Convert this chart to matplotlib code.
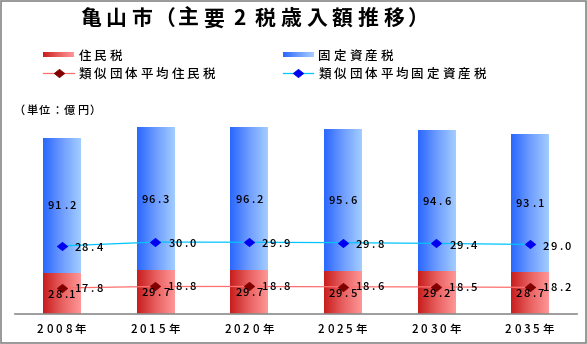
import numpy as np
import matplotlib
matplotlib.use("Agg")
import matplotlib.pyplot as plt
from matplotlib.colors import LinearSegmentedColormap
from matplotlib.patches import Rectangle

# ---- data (億円) ----
years = ["2008年", "2015年", "2020年", "2025年", "2030年", "2035年"]
resident_tax = [28.1, 29.7, 29.7, 29.5, 29.2, 28.7]
property_tax = [91.2, 96.3, 96.2, 95.6, 94.6, 93.1]
avg_resident_tax = [17.8, 18.8, 18.8, 18.6, 18.5, 18.2]
avg_property_tax = [28.4, 30.0, 29.9, 29.8, 29.4, 29.0]

title = "亀山市（主要2税歳入額推移）"
legend_labels = ["住民税", "固定資産税", "類似団体平均住民税", "類似団体平均固定資産税"]
unit_label = "（単位：億円）"

W, H = 587, 344
FONT = ["Noto Sans CJK JP", "DejaVu Sans"]

red_cmap = LinearSegmentedColormap.from_list("red_grad", ["#C81E1E", "#E86060", "#FF9696"])
blue_cmap = LinearSegmentedColormap.from_list("blue_grad", ["#2A68FF", "#6E9CFF", "#A2CDFF"])
grad = np.linspace(0, 1, 64).reshape(1, -1)

# a diamond a little wider than tall
DIAMOND = [(-1, 0), (0, 0.8), (1, 0), (0, -0.8), (-1, 0)]
MS = 7.5

fig = plt.figure(figsize=(W / 100, H / 100), dpi=100)
fig.patch.set_facecolor("white")

# ---- main plot area ----
px_per_unit = 1.48
y_top = 140
ax = fig.add_axes([15 / W, (H - 314.3) / H, 561.7 / W, y_top * px_per_unit / H])
ax.patch.set_alpha(0)
x = np.arange(len(years))
bar_w = 0.4

bars_r = ax.bar(x, resident_tax, width=bar_w, color="none", edgecolor="none")
bars_b = ax.bar(x, property_tax, width=bar_w, bottom=resident_tax, color="none", edgecolor="none")
for bars, cmap in ((bars_r, red_cmap), (bars_b, blue_cmap)):
    for b in bars:
        x0, y0 = b.get_x(), b.get_y()
        ax.imshow(grad, extent=(x0, x0 + b.get_width(), y0, y0 + b.get_height()),
                  aspect="auto", cmap=cmap, interpolation="bilinear", zorder=1)

stacked_avg = np.array(avg_resident_tax) + np.array(avg_property_tax)
ax.plot(x, avg_resident_tax, color="#FF6E6E", lw=0.9, marker=DIAMOND, ms=MS,
        mfc="#800000", mec="#800000", mew=0.5, zorder=3)
ax.plot(x, stacked_avg, color="#00C4FF", lw=0.9, marker=DIAMOND, ms=MS,
        mfc="#0000F0", mec="#0000F0", mew=0.5, zorder=3)

ax.set_xlim(-0.5, len(years) - 0.5)
ax.set_ylim(0, y_top)
ax.set_xticks([])
ax.set_yticks([])
for s in ("top", "left", "right"):
    ax.spines[s].set_visible(False)
ax.spines["bottom"].set_color("#8C8C8C")
ax.spines["bottom"].set_linewidth(1.2)

# ---- overlay in pixel coordinates (origin top-left) ----
pax = fig.add_axes([0, 0, 1, 1], zorder=5)
pax.patch.set_alpha(0)
pax.axis("off")


def reset_overlay():
    pax.set_xlim(0, W)
    pax.set_ylim(H, 0)


reset_overlay()


def to_px(xd, yd):
    dx, dy = ax.transData.transform((xd, yd))
    return dx, H - dy


def spaced(xp, yp, s, size, adv_h, adv_f, align="center", weight="normal",
           color="black", overrides=None):
    """Draw text with fixed per-character advances, centred vertically on yp."""
    advs = []
    for c in s:
        if overrides and c in overrides:
            advs.append(overrides[c])
        else:
            advs.append(adv_h if ord(c) < 0x2000 else adv_f)
    total = sum(advs)
    pos = xp - total / 2 if align == "center" else xp
    em = size * 100 / 72
    base = yp + 0.37 * em
    for c, a in zip(s, advs):
        pax.text(pos + a / 2, base, c, ha="center", va="baseline", fontsize=size,
                 family=FONT, weight=weight, color=color)
        pos += a


# title
spaced(77.2, 17.5, title, 15, 25.7, 25.7, align="left", weight="bold",
       overrides={"（": 21, "）": 22})

# legend
for (lx, ly), cmap in (((43, 55), red_cmap), ((283, 55), blue_cmap)):
    pax.imshow(grad, extent=(lx, lx + 31, ly + 2.4, ly - 2.4), aspect="auto",
               cmap=cmap, interpolation="bilinear")
reset_overlay()
pax.plot([43, 74], [73.3, 73.3], color="#FF6E6E", lw=0.9)
pax.plot([58.5], [73.3], marker=DIAMOND, ms=MS, color="#800000", mew=0.5)
pax.plot([283, 313], [73.3, 73.3], color="#00C4FF", lw=0.9)
pax.plot([298], [73.3], marker=DIAMOND, ms=MS, color="#0000F0", mew=0.5)
spaced(76.8, 55, legend_labels[0], 9, 15.5, 15.5, align="left", weight="medium")
spaced(316.8, 55, legend_labels[1], 9, 15.5, 15.5, align="left", weight="medium")
spaced(76.8, 73, legend_labels[2], 9, 15.5, 15.5, align="left", weight="medium")
spaced(316.8, 73, legend_labels[3], 9, 15.5, 15.5, align="left", weight="medium")

# unit
spaced(13, 110, unit_label, 8, 12.6, 12.6, align="left", weight="medium")

# category labels
for i, yr in enumerate(years):
    cx, _ = to_px(i, 0)
    spaced(cx, 329, yr, 8.3, 9.4, 15, align="center", weight="medium")

# value labels
for i in range(len(years)):
    bx, by = to_px(i, resident_tax[i] / 2)
    spaced(bx, by, f"{resident_tax[i]:.1f}", 8, 7.2, 7.2, weight="medium")
    bx, by = to_px(i, resident_tax[i] + property_tax[i] / 2)
    spaced(bx, by, f"{property_tax[i]:.1f}", 8, 7.2, 7.2, weight="medium")
    mx, my = to_px(i, avg_resident_tax[i])
    spaced(mx + 12.5, my - 0.5, f"{avg_resident_tax[i]:.1f}", 8, 7.2, 7.2,
           align="left", weight="medium")
    mx, my = to_px(i, stacked_avg[i])
    spaced(mx + 12.5, my + 1, f"{avg_property_tax[i]:.1f}", 8, 7.2, 7.2,
           align="left", weight="medium")

# frame
pax.add_patch(Rectangle((0.5, 0.5), 585, 342, fill=False, edgecolor="#888888", lw=1.2))
reset_overlay()

fig.savefig("out.png", dpi=100)
